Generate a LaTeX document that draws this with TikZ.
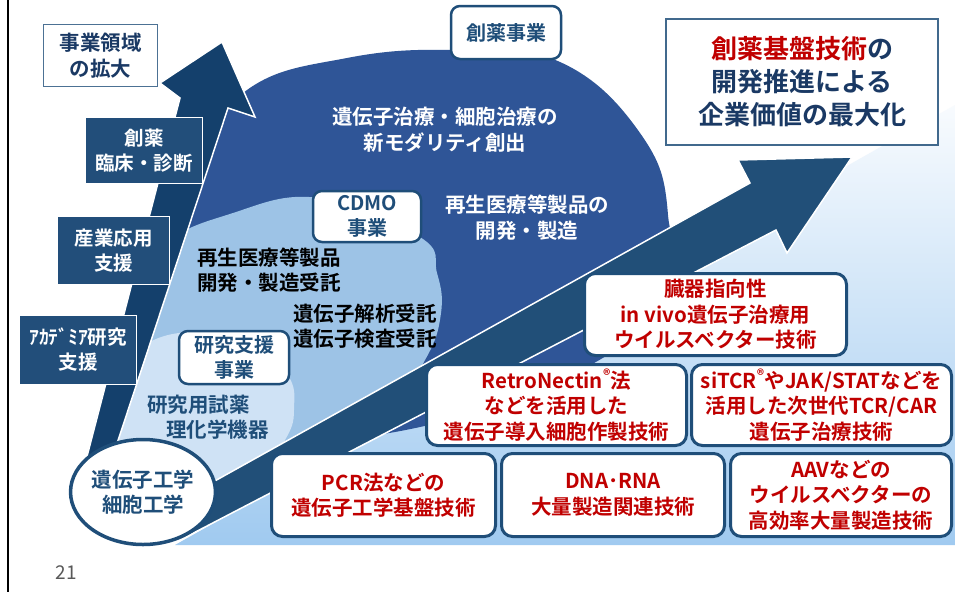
\documentclass[tikz,border=0pt]{standalone}
\usepackage{fontspec}
\setmainfont{Noto Sans CJK JP}[BoldFont={Noto Sans CJK JP Bold}]
\usetikzlibrary{shapes.geometric}
\definecolor{leftarrow}{RGB}{20,64,108}
\definecolor{diagarrow}{RGB}{33,79,120}
\definecolor{bigblue}{RGB}{47,85,151}
\definecolor{midblue}{RGB}{157,195,230}
\definecolor{lightblue}{RGB}{207,226,245}
\definecolor{boxfill}{RGB}{34,78,122}
\definecolor{dblue}{RGB}{31,78,121}
\definecolor{navytext}{RGB}{26,57,100}
\definecolor{myred}{RGB}{192,0,0}
\definecolor{bgtop}{RGB}{248,251,254}
\definecolor{bgmid}{RGB}{215,232,248}
\definecolor{bgbot}{RGB}{160,202,240}
\definecolor{pagegray}{RGB}{89,89,89}
\newcommand\fsz[2]{\fontsize{#1}{#2}\selectfont\bfseries}
\tikzset{
  rbox/.style={draw=dblue, line width=2.5pt, fill=white, rounded corners=9pt, inner sep=0pt, align=center, text=dblue, font=\fsz{20}{25}},
  redbox/.style={draw=dblue, line width=3pt, fill=white, rounded corners=11pt, inner sep=0pt, align=center, text=myred, font=\fsz{20.5}{25.5}},
  leftbox/.style={draw=white, line width=1pt, fill=boxfill, inner sep=0pt, align=center, text=white, font=\fsz{19.5}{25}},
  whitetxt/.style={text=white, align=center, font=\fsz{20.5}{26}, inner sep=0pt},
  blacktxt/.style={text=black, align=left, font=\fsz{20.5}{25}, inner sep=0pt},
  bluetxt/.style={text=dblue, align=left, font=\fsz{20.5}{25}, inner sep=0pt},
  shapeline/.style={draw=white, line width=1.5pt, line join=miter}
}
\begin{document}
\begin{tikzpicture}[x=1pt,y=-1pt]
\useasboundingbox (0,0) rectangle (955,592);
\fill[white] (0,0) rectangle (955,592);
\draw[black, line width=2pt] (8,0) -- (8,592);

% background wedge
\shade[top color=bgtop, middle color=bgmid, bottom color=bgbot] (175,545) -- (955,105) -- (955,545) -- cycle;

% business circles
\fill[bigblue] plot[smooth cycle, tension=0.7] coordinates {(165,270) (192,170) (247,90) (347,58) (455,50) (560,62) (640,133) (668,215) (655,320) (450,420) (250,420)};
\fill[midblue] plot[smooth cycle, tension=0.7] coordinates {(125,330) (160,250) (233,213) (320,198) (420,237) (437,273) (441,313) (425,360) (380,420) (250,470) (140,450)};
\fill[lightblue] plot[smooth cycle, tension=0.7] coordinates {(95,450) (138,350) (230,335) (285,372) (294,410) (285,440) (260,470) (180,495)};

% left vertical arrow
\filldraw[fill=leftarrow, shapeline] (77,495) -- (180,98) -- (160,83) -- (222,42) -- (255,117) -- (228,108) -- (100,495) -- cycle;

% diagonal arrow
\filldraw[fill=diagarrow, shapeline] (180,540) -- (776,230) -- (787,253) -- (852,157) -- (738,160) -- (750,183) -- (195,492) -- cycle;

% base ellipse
\node[ellipse, draw=dblue, line width=3.5pt, fill=white, minimum width=136pt, minimum height=105pt, inner sep=0pt, align=center, text=dblue, font=\fsz{20.5}{25}] (gene) at (143,492) {遺伝子工学\\細胞工学};

% left side boxes
\node[draw=dblue!80, line width=1.5pt, fill=white, inner sep=0pt, minimum width=114pt, minimum height=62pt, align=center, text=navytext, font=\fsz{20.5}{26}] (expand) at (100.5,55.5) {事業領域\\の拡大};
\node[leftbox, minimum width=117pt, minimum height=66pt] (drug) at (144,150.5) {創薬\\臨床・診断};
\node[leftbox, minimum width=112pt, minimum height=68pt] (industry) at (113.5,250.5) {産業応用\\支援};
\node[leftbox, minimum width=117pt, minimum height=69pt] (academia) at (78,350) {ｱｶﾃﾞﾐｱ研究\\支援};

% business labels
\node[rbox, minimum width=110pt, minimum height=53pt] (drugbiz) at (506,32.5) {創薬事業};
\node[rbox, minimum width=108pt, minimum height=51pt] (cdmo) at (367,216.5) {CDMO\\事業};
\node[rbox, minimum width=110pt, minimum height=53pt] (research) at (234,357.5) {研究支援\\事業};

% texts in circles
\node[whitetxt] (modality) at (445,130) {遺伝子治療・細胞治療の\\新モダリティ創出};
\node[whitetxt] (regen) at (527,218) {再生医療等製品の\\開発・製造};
\node[blacktxt, anchor=west] (regencont) at (197,270.5) {再生医療等製品\\開発・製造受託};
\node[blacktxt] (genecont) at (365,326) {遺伝子解析受託\\遺伝子検査受託};
\node[bluetxt, anchor=west] (reagent) at (147,417.5) {研究用試薬\\\hspace*{19pt}理化学機器};

% goal box
\node[draw=dblue!85, line width=2pt, fill=white, inner sep=0pt, minimum width=272pt, minimum height=126pt, align=center, text=navytext, font=\fsz{26}{33}] (goal) at (802,82) {{\color{myred}創薬基盤技術}の\\開発推進による\\企業価値の最大化};

% technology boxes
\node[redbox, minimum width=262pt, minimum height=82pt] (organ) at (715.5,314.5) {臓器指向性\\in vivo遺伝子治療用\\ウイルスベクター技術};
\node[redbox, minimum width=260pt, minimum height=81pt] (retro) at (556.5,405) {RetroNectin\textsuperscript{®}法\\などを活用した\\遺伝子導入細胞作製技術};
\node[redbox, minimum width=260pt, minimum height=81pt] (sitcr) at (821.5,405) {siTCR\textsuperscript{®}やJAK/STATなどを\\活用した次世代TCR/CAR\\遺伝子治療技術};
\node[redbox, minimum width=224pt, minimum height=83pt] (pcr) at (383.5,495) {PCR法などの\\遺伝子工学基盤技術};
\node[redbox, minimum width=223pt, minimum height=83pt] (dna) at (613,495) {DNA･RNA\\大量製造関連技術};
\node[redbox, minimum width=221pt, minimum height=83pt] (aav) at (841,495) {AAVなどの\\ウイルスベクターの\\高効率大量製造技術};

% page number
\node[text=pagegray, font=\fontsize{19}{22}\selectfont, inner sep=0pt] (page) at (66,573) {21};
\end{tikzpicture}
\end{document}
